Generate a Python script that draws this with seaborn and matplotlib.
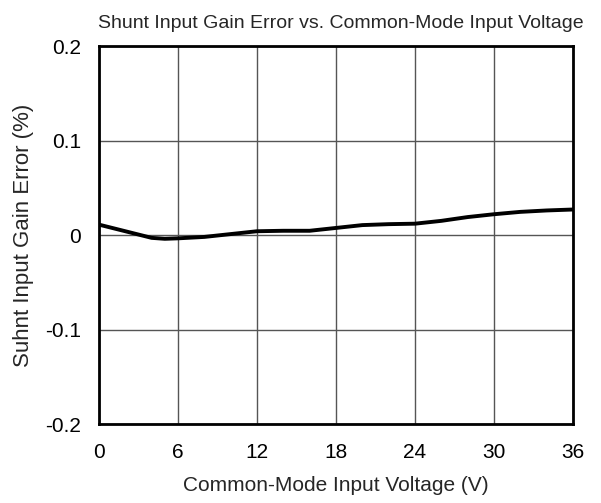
import numpy as np
import pandas as pd
import matplotlib
matplotlib.use('Agg')
import matplotlib.pyplot as plt
import seaborn as sns

# common-mode input voltage (V) and gain error (%)
voltage = [0, 2, 4, 5, 6, 8, 10, 12, 14, 16, 18, 20, 22, 24, 26, 28, 30, 32, 34, 36]
gain_err = [0.011, 0.004, -0.003, -0.004, -0.0035, -0.002, 0.001, 0.004, 0.0045, 0.0045,
            0.0075, 0.0105, 0.0115, 0.012, 0.015, 0.019, 0.022, 0.0245, 0.026, 0.027]

x_ticks = [0, 6, 12, 18, 24, 30, 36]
y_ticks = [-0.2, -0.1, 0, 0.1, 0.2]
y_labels = ['-0.2', '-0.1', '0', '0.1', '0.2']

df = pd.DataFrame({'v': voltage, 'err': gain_err})

sns.set_style('white')
plt.rcParams['font.family'] = ['Liberation Sans', 'DejaVu Sans']

fig = plt.figure(figsize=(6.01, 5.03), dpi=100)
ax = fig.add_axes([0.1647, 0.157, 0.7887, 0.7515])

sns.lineplot(data=df, x='v', y='err', ax=ax, color='black', linewidth=2.8)

ax.set_xlim(0, 36)
ax.set_ylim(-0.2, 0.2)
ax.set_xticks(x_ticks)
ax.set_xticklabels([str(t) for t in x_ticks])
ax.set_yticks(y_ticks)
ax.set_yticklabels(y_labels)
ax.tick_params(length=0, labelsize=15, colors='black')
ax.tick_params(axis='x', pad=14)
ax.tick_params(axis='y', pad=13)
ax.grid(True, color='#555555', linewidth=1)
for s in ax.spines.values():
    s.set_color('black')
    s.set_linewidth(2)

ax.set_xlabel('Common-Mode Input Voltage (V)', fontsize=15, labelpad=10)
ax.set_ylabel('Suhnt Input Gain Error (%)', fontsize=16, labelpad=8)
ax.set_title('Shunt Input Gain Error vs. Common-Mode Input Voltage', fontsize=14, pad=13, x=0.51)

fig.savefig('out.png', dpi=100)
